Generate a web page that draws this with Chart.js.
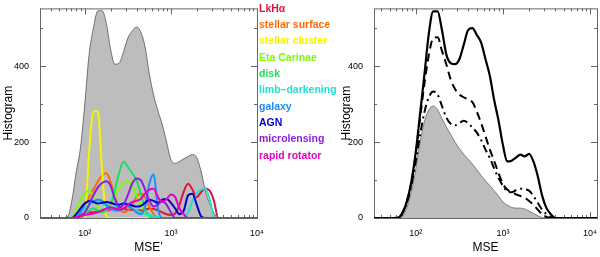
<!DOCTYPE html>
<html>
<head>
<meta charset="utf-8">
<script src="https://cdn.jsdelivr.net/npm/chart.js@4.4.1/dist/chart.umd.min.js"></script>
<style>
  html, body { margin: 0; padding: 0; background: #fff; }
  #wrap { position: relative; width: 600px; height: 257px; overflow: hidden; }
  #left { position: absolute; left: 0; top: 0; }
  #right { position: absolute; left: 300px; top: 0; }
</style>
</head>
<body>
<div id="wrap">
  <canvas id="left" width="345" height="257"></canvas>
  <canvas id="right" width="300" height="257"></canvas>
</div>
<script>
// log10(MSE) sample points, shared by both panels
const logMse = [1.4,
  1.70, 1.75, 1.80, 1.85, 1.90, 1.95, 2.00, 2.05, 2.10, 2.15,
  2.20, 2.25, 2.30, 2.35, 2.40, 2.45, 2.50, 2.55, 2.60, 2.65,
  2.70, 2.75, 2.80, 2.85, 2.90, 2.95, 3.00, 3.05, 3.10, 3.15,
  3.20, 3.25, 3.30, 3.35, 3.40, 3.45, 3.50, 3.55, 3.60, 3.65,
  3.70, 4.2];

const xTickExp = [2, 3, 4];
const xTickLabels = ["10\u00b2", "10\u00b3", "10\u2074"];
const yTicks = [0, 200, 400];
const yMinorTicks = [100, 300, 500];

// left panel: all sources (grey) and each class
const allSources = [0, 0,0,3,46,120,185,300,430,500,545, 546,513,444,405,408,438,474,492,503,490,
  451,379,323,282,246,200,154,144,149,156, 162,167,159,123,72,38,13,0,0,0, 0, 0];
const lkha = [0, 0,0,0,0,3,8,12,15,15,18, 20,20,22,25,25,24,22,22,20,20,
  22,25,24,20,15,10,8,12,35,70, 90,75,55,68,78,72,45,0,0,0, 0, 0];
const stellarSurface = [0, 0,0,0,0,0,25,40,55,75,95, 112,118,95,55,28,15,20,35,55,65,
  55,30,10,0,0,0,0,0,0,0, 0,0,0,0,0,0,0,0,0,0, 0, 0];
const stellarCluster = [0, 0,0,0,0,0,0,2,175,280,282, 130,5,0,0,0,0,0,0,0,0,
  0,0,0,0,0,0,0,0,0,0, 0,0,0,0,0,0,0,0,0,0, 0, 0];
const etaCarinae = [0, 0,0,0,0,20,45,65,72,55,30, 15,20,35,55,80,92,97,85,60,35,
  15,5,0,0,0,0,0,0,0,0, 0,0,0,0,0,0,0,0,0,0, 0, 0];
const disk = [0, 0,0,0,0,0,0,10,20,25,20, 15,20,35,75,120,148,135,118,100,65,
  25,5,0,0,0,0,0,0,0,0, 0,0,0,0,0,0,0,0,0,0, 0, 0];
const limbDarkening = [0, 0,0,0,0,5,15,25,35,40,45, 40,30,25,30,35,40,35,25,20,15,
  10,8,5,3,0,0,0,0,0,0, 15,45,65,75,77,50,5,0,0,0, 0, 0];
const galaxy = [0, 0,0,0,0,0,15,35,46,45,48, 45,35,25,20,20,25,30,25,15,10,
  30,90,115,25,0,0,0,0,0,0, 0,0,0,0,0,0,0,0,0,0, 0, 0];
const agn = [0, 0,0,0,0,10,25,38,45,42,38, 40,42,40,36,35,38,36,33,30,32,
  40,48,45,40,48,50,40,25,10,20, 60,64,35,5,0,0,0,0,0,0, 0, 0];
const microlensing = [0, 0,0,0,0,0,5,15,35,60,80, 92,97,85,50,28,35,60,90,104,100,
  75,45,30,35,45,35,15,0,0,0, 0,0,0,0,0,0,0,0,0,0, 0, 0];
const rapidRotator = [0, 0,0,0,0,3,5,8,10,12,15, 20,25,28,25,22,25,35,42,45,50,
  65,75,77,55,42,50,62,55,25,10, 0,0,0,0,0,0,0,0,0,0, 0, 0];

const classNames = ["LkH\u03b1", "stellar surface", "stellar cluster", "Eta Carinae", "disk",
  "limb\u2013darkening", "galaxy", "AGN", "microlensing", "rapid rotator"];
const classColors = ["#dc143c", "#ff6a00", "#f4f400", "#7cfc00", "#19e05a",
  "#1fe3cf", "#1e8cff", "#0000cd", "#8a1fe0", "#e600c8"];

// right panel
const rightTotal = [0, 0,0,1,15,46,97,174,277,380,487, 544,544,495,431,408,405,418,456,495,500,
  482,462,418,374,310,256,192,149,151,159, 167,162,169,149,110,59,26,10,0,0, 0, 0];
const rightDashed = [0, 0,0,1,15,45,95,170,265,355,430, 474,476,440,405,365,340,325,318,312,305,
  280,250,215,180,150,118,90,75,68,62, 58,53,45,35,22,10,3,0,0,0, 0, 0];
const rightDashDot = [0, 0,0,1,14,42,88,150,220,280,318, 333,325,295,265,248,244,250,256,250,238,
  225,205,180,158,130,105,85,70,68,73, 77,76,72,58,40,22,10,2,0,0, 0, 0];
const rightGrey = [0, 0,0,0,5,30,70,130,200,255,285, 295,285,262,240,220,200,183,168,155,142,
  127,112,98,85,72,58,42,34,28,26, 26,24,18,12,6,1,0,0,0,0, 0, 0];

const pts = (vals) => logMse.map((x, i) => ({ x: x, y: vals[i] }));

// box with inward ticks, IDL style
const frame = {
  id: "frame",
  beforeDatasetsDraw(chart) {
    const { ctx, chartArea: a, scales: { x, y } } = chart;
    ctx.save();
    ctx.strokeStyle = "#666";
    ctx.lineWidth = 1;
    ctx.strokeRect(a.left + 0.5, a.top + 0.5, a.width, a.height);
    ctx.beginPath();
    const xt = (v, len) => {
      const px = Math.round(x.getPixelForValue(v)) + 0.5;
      if (px < a.left || px > a.right) return;
      ctx.moveTo(px, a.bottom); ctx.lineTo(px, a.bottom - len);
      ctx.moveTo(px, a.top); ctx.lineTo(px, a.top + len);
    };
    const yt = (v, len) => {
      const py = Math.round(y.getPixelForValue(v)) + 0.5;
      if (py < a.top || py > a.bottom) return;
      ctx.moveTo(a.left, py); ctx.lineTo(a.left + len, py);
      ctx.moveTo(a.right, py); ctx.lineTo(a.right - len, py);
    };
    for (let d = 1; d <= 4; d++) {
      xt(d, 6);
      for (let k = 2; k <= 9; k++) xt(d + Math.log10(k), 3);
    }
    yTicks.forEach(v => yt(v, 6));
    yMinorTicks.forEach(v => yt(v, 3));
    ctx.stroke();
    ctx.restore();
  }
};

const classLegend = {
  id: "classLegend",
  afterDraw(chart) {
    const ctx = chart.ctx;
    ctx.save();
    ctx.font = "bold 10.5px 'Liberation Sans', Arial, sans-serif";
    ctx.textBaseline = "middle";
    classNames.forEach((name, i) => {
      ctx.fillStyle = classColors[i];
      ctx.fillText(name, 259, 9 + i * 16.3);
    });
    ctx.restore();
  }
};

const tickFont = { family: "'Liberation Sans', Arial, sans-serif", size: 9 };
const titleFont = { family: "'Liberation Sans', Arial, sans-serif", size: 12 };

function makeScales(xMin, xMax, xTitle, yWidth) {
  return {
    x: {
      type: "linear", min: xMin, max: xMax,
      afterBuildTicks: s => { s.ticks = xTickExp.map(v => ({ value: v })); },
      ticks: {
        font: tickFont, color: "#000", padding: 2, maxRotation: 0, autoSkip: false,
        callback: (v) => xTickLabels[xTickExp.indexOf(v)]
      },
      grid: { display: false }, border: { display: false },
      title: { display: true, text: xTitle, font: titleFont, color: "#000", padding: { top: 4, bottom: 2 } },
      afterFit: s => { s.height = 39; }
    },
    y: {
      min: 0, max: 552,
      afterBuildTicks: s => { s.ticks = yTicks.map(v => ({ value: v })); },
      ticks: { font: tickFont, color: "#000", padding: 3 },
      grid: { display: false }, border: { display: false },
      title: { display: true, text: "Histogram", font: titleFont, color: "#000", padding: { top: 1, bottom: 0 } },
      afterFit: s => { s.width = yWidth; }
    }
  };
}

const lineOpts = {
  fill: false, pointRadius: 0, borderWidth: 2, cubicInterpolationMode: "monotone"
};

const classSeries = [lkha, stellarSurface, stellarCluster, etaCarinae, disk,
  limbDarkening, galaxy, agn, microlensing, rapidRotator];

const leftDatasets = classSeries.map((vals, i) => Object.assign({}, lineOpts, {
  label: classNames[i], data: pts(vals), borderColor: classColors[i], order: classSeries.length - i
}));
leftDatasets.push({
  label: "all", data: pts(allSources), fill: "origin", backgroundColor: "#bdbdbd",
  borderColor: "#555", borderWidth: 0.8, pointRadius: 0, cubicInterpolationMode: "monotone", order: 99
});

new Chart(document.getElementById("left"), {
  type: "line",
  data: { datasets: leftDatasets },
  options: {
    responsive: false, animation: false, devicePixelRatio: 1,
    layout: { padding: { left: 0, top: 3, right: 88, bottom: 0 } },
    plugins: { legend: { display: false }, tooltip: { enabled: false } },
    scales: makeScales(1.48, 4.0, "MSE\u2019", 40)
  },
  plugins: [frame, classLegend]
});

new Chart(document.getElementById("right"), {
  type: "line",
  data: {
    datasets: [
      Object.assign({}, lineOpts, { label: "total", data: pts(rightTotal), borderColor: "#000", borderWidth: 2.2, order: 1 }),
      Object.assign({}, lineOpts, { label: "dashed", data: pts(rightDashed), borderColor: "#000", borderDash: [8, 5], order: 2 }),
      Object.assign({}, lineOpts, { label: "dashdot", data: pts(rightDashDot), borderColor: "#000", borderDash: [8, 4, 2, 4], order: 3 }),
      { label: "grey", data: pts(rightGrey), fill: "origin", backgroundColor: "#bdbdbd",
        borderColor: "#666", borderWidth: 0.8, pointRadius: 0, cubicInterpolationMode: "monotone", order: 4 }
    ]
  },
  options: {
    responsive: false, animation: false, devicePixelRatio: 1,
    layout: { padding: { left: 38, top: 3, right: 3, bottom: 0 } },
    plugins: { legend: { display: false }, tooltip: { enabled: false } },
    scales: makeScales(1.52, 4.08, "MSE", 36)
  },
  plugins: [frame]
});
</script>
</body>
</html>
